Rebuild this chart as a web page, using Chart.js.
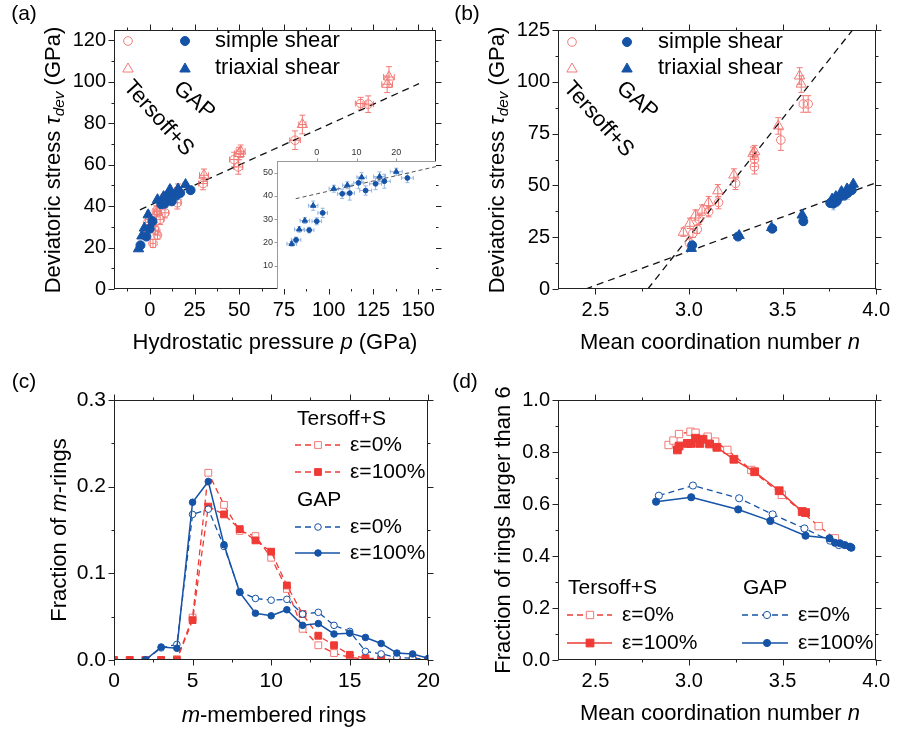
<!DOCTYPE html>
<html><head><meta charset="utf-8">
<script src="https://cdn.jsdelivr.net/npm/chart.js@4.4.1/dist/chart.umd.min.js"></script>
<style>
html,body{margin:0;padding:0;background:#fff;}
#fig{position:relative;width:899px;height:731px;overflow:hidden;background:#fff;font-family:"Liberation Sans",Arial,sans-serif;}
.tx{position:absolute;white-space:nowrap;line-height:1;color:#000;}
sub{font-size:0.7em;vertical-align:-0.28em;line-height:0;}
</style></head><body><div id="fig"></div>
<script>
const FONT='"Liberation Sans", Arial, sans-serif';
const RED='#ef3a35', PINK='#f27a76', BLUE='#1553a7', LBLUE='#93b5e0', FRAME='#222';

// ---------------- Panel (a) ----------------
const aXTicks=[0,25,50,75,100,125,150];
const aXMinor=[-12.5,12.5,37.5,62.5,87.5,112.5,137.5,157.5];
const aYTicks=[0,20,40,60,80,100,120];
const aYMinor=[10,30,50,70,90,110];
const aTsCircP=[1.8,3.3,4.3,5.8,3.7,8.5,15.4,29.8,47.1,49.5,81.2,117.9,122.1];
const aTsCircT=[22.0,28.4,26.0,33.6,37.7,36.8,41.6,50.9,62.5,58.9,71.8,89.5,89.2];
const aTsCircPErr=[1.5,1.5,1.5,2,1.5,2,2,2.5,2.5,2.5,3,3,3];
const aTsCircTErr=[2,2,2,2.5,2.5,2.5,3,3,3.5,3.5,4.5,3,4];
const aTsTriP=[-2.8,-0.8,1.5,4.2,7.1,15.8,30.3,49.9,50.8,85.3,132.7,133.7];
const aTsTriT=[26.0,33.6,31.5,37.3,42.9,47.7,54.9,65.4,66.5,79.4,98.8,102.3];
const aTsTriPErr=[1.5,1.5,1.5,1.5,2,2,2.5,2.5,2.5,2,3,3];
const aTsTriTErr=[2,2.5,2.5,2.5,2.5,3,3,3,3,4.5,4,5];
const gapCircP=[-5.2,-1.9,0.0,1.5,6.4,8.3,10.5,12.3,14.8,17.0,22.8];
const gapCircT=[21.1,25.3,29.1,32.7,40.9,41.2,45.6,42.3,45.2,46.3,47.7];
const gapCircPErr=[1.2,1.2,1.2,1.2,1.2,1.2,1.2,1.5,1.5,1.5,1.5];
const gapCircTErr=[1.2,1.2,1.5,2,2,3,2.5,2,2.5,3,2];
const gapTriP=[-6.3,-4.4,-3.0,-0.9,4.3,7.7,11.3,15.8,20.0];
const gapTriT=[19.4,25.6,29.4,35.8,43.1,44.6,48.0,48.3,50.4];
const gapTriPErr=[1.2,1.2,1.2,1.2,1.2,1.2,1.2,1.5,1.5];
const gapTriTErr=[1,1.2,1.2,2,1.5,1.5,2,2,1.5];
const aFitP=[-5.5,150.5];
const aFitT=[38.2,99.1];
// inset
const inXTicks=[0,10,20];
const inYTicks=[10,20,30,40,50];
const inFitP=[-5.3,30];
const inFitT=[38.8,52.6];

// ---------------- Panel (b) ----------------
const bXTicks=[2.5,3.0,3.5,4.0];
const bXMinor=[2.75,3.25,3.75];
const bYTicks=[0,25,50,75,100,125];
const bYMinor=[12.5,37.5,62.5,87.5,112.5];
const bTsCircN=[3.002,3.021,3.044,3.053,3.105,3.158,3.249,3.350,3.350,3.491,3.611,3.637];
const bTsCircT=[22.3,26.9,28.8,33.6,37.3,41.7,51.0,59.0,62.6,71.9,89.3,89.3];
const bTsCircTErr=[2,2,2,2.5,2.5,3,3,3.5,3.5,5,4,4];
const bTsTriN=[2.970,3.005,3.035,3.070,3.105,3.154,3.240,3.342,3.351,3.477,3.600,3.591];
const bTsTriT=[27.4,31.7,35.7,38.1,41.7,47.4,55.0,65.5,66.3,78.7,98.9,102.8];
const bTsTriTErr=[2,2.5,2.5,2.5,3,3,3,3,3,4,4,4];
const bGapCircN=[3.017,3.262,3.445,3.611,3.755,3.772,3.790,3.805,3.830,3.848,3.870];
const bGapCircT=[21.1,25.3,29.1,32.7,41.5,41.2,42.3,44.5,45.2,46.3,47.7];
const bGapCircTErr=[1.2,1.2,1.5,2,2,3,2.5,2,2.5,3,2];
const bGapTriN=[3.012,3.268,3.442,3.605,3.765,3.785,3.815,3.845,3.878];
const bGapTriT=[19.6,25.8,29.6,35.7,43.4,44.6,47.0,48.3,50.6];
const bGapTriTErr=[1,1.2,1.2,2,1.5,1.5,2,2,1.5];
const bFitRedN=[2.78,3.874];
const bFitRedT=[0,125];
const bFitBlueN=[2.447,4.0];
const bFitBlueT=[0,51.3];

// ---------------- Panel (c) ----------------
const cXTicks=[0,5,10,15,20];
const cXMinor=[2.5,7.5,12.5,17.5];
const cYTicks=[0,0.1,0.2,0.3];
const cYMinor=[0.05,0.15,0.25];
const ringSizes=[0,1,2,3,4,5,6,7,8,9,10,11,12,13,14,15,16,17,18,19,20];
const cTs0=[0,0,0,0,0.001,0.049,0.216,0.179,0.149,0.143,0.118,0.082,0.036,0.017,0.008,0.003,0.001,0,0,0,0];
const cTs100=[0,0,0,0,0,0.046,0.177,0.168,0.151,0.138,0.125,0.086,0.053,0.028,0.017,0.006,0.002,0.0015,0,0,0];
const cGap0=[null,null,0,0.014,0.018,0.168,0.174,0.131,0.079,0.071,0.069,0.070,0.053,0.055,0.040,0.033,0.010,0.007,0.003,0.002,0.001];
const cGap100=[null,null,0,0.015,0.0135,0.182,0.206,0.133,0.078,0.054,0.051,0.058,0.040,0.042,0.030,0.031,0.026,0.019,0.008,0.007,0.002];

// ---------------- Panel (d) ----------------
const dXTicks=[2.5,3.0,3.5,4.0];
const dXMinor=[2.75,3.25,3.75];
const dYTicks=[0,0.2,0.4,0.6,0.8,1.0];
const dYMinor=[0.1,0.3,0.5,0.7,0.9];
const dTs0N=[2.891,2.917,2.947,3.008,3.035,3.100,3.140,3.205,3.333,3.496,3.693,3.780];
const dTs0F=[0.827,0.844,0.869,0.878,0.874,0.859,0.840,0.808,0.731,0.635,0.515,0.468];
const dTs100N=[2.938,2.947,2.991,3.012,3.035,3.058,3.075,3.110,3.149,3.240,3.351,3.482,3.605,3.623];
const dTs100F=[0.808,0.823,0.833,0.833,0.853,0.833,0.849,0.831,0.818,0.772,0.724,0.651,0.571,0.567];
const dGap0N=[2.839,3.021,3.268,3.447,3.617,3.754,3.801,3.865];
const dGap0F=[0.632,0.671,0.622,0.560,0.506,0.459,0.442,0.433];
const dGap100N=[2.824,3.012,3.263,3.435,3.623,3.751,3.780,3.807,3.833,3.860,3.868];
const dGap100F=[0.609,0.626,0.579,0.535,0.478,0.468,0.451,0.449,0.442,0.436,0.432];

// ---------------- helpers ----------------
const fig=document.getElementById('fig');
function pts(xs,ys){const o=[];xs.forEach((x,i)=>{if(ys[i]!==null&&ys[i]!==undefined)o.push({x:x,y:ys[i]});});return o;}
function mkCanvas(x,y,w,h){const c=document.createElement('canvas');c.width=w;c.height=h;
  c.style.cssText=`position:absolute;left:${x}px;top:${y}px;width:${w}px;height:${h}px`;fig.appendChild(c);return c;}
function addText(html,x,y,size,opt){opt=opt||{};const d=document.createElement('div');d.className='tx';d.innerHTML=html;
  d.style.fontSize=size+'px';d.style.left=x+'px';d.style.top=y+'px';
  if(opt.rotL!==undefined){d.style.top=(y-size/2)+'px';d.style.transformOrigin='0 50%';d.style.transform=`rotate(${opt.rotL}deg)`;}
  else d.style.transform=`translate(-50%,-50%)`+(opt.rot?` rotate(${opt.rot}deg)`:'');
  fig.appendChild(d);}
function drawMarker(ctx,style,x,y,r,fill,stroke,lw){
  ctx.beginPath();
  if(style==='circle'){ctx.arc(x,y,r,0,Math.PI*2);}
  else if(style==='triangle'){let a=0;ctx.moveTo(x+Math.sin(a)*r,y-Math.cos(a)*r);a+=2*Math.PI/3;
    ctx.lineTo(x+Math.sin(a)*r,y-Math.cos(a)*r);a+=2*Math.PI/3;ctx.lineTo(x+Math.sin(a)*r,y-Math.cos(a)*r);ctx.closePath();}
  else {const s=r*Math.SQRT1_2;ctx.rect(x-s,y-s,2*s,2*s);}
  if(fill){ctx.fillStyle=fill;ctx.fill();}
  if(stroke){ctx.strokeStyle=stroke;ctx.lineWidth=lw||1;ctx.stroke();}
}
function scaleCfg(c,fit,pos){
  return {type:'linear',position:pos,min:c.min,max:c.max,
    afterBuildTicks:s=>{s.ticks=c.ticks.map(v=>({value:v}));},
    afterFit:s=>{if(s.isHorizontal())s.height=fit;else s.width=fit;},
    grid:{display:false,drawTicks:false},border:{display:false},
    ticks:{autoSkip:false,maxRotation:0,minRotation:0,padding:c.pad,color:c.color||'#000',
      font:{family:FONT,size:c.size},callback:v=>c.fmt(v)}};
}
function makeFrame(o){return {id:'frame',afterDatasetsDraw(chart){
  const ctx=chart.ctx,a=chart.chartArea,xs=chart.scales.x,ys=chart.scales.y;
  const L=Math.round(a.left)+0.5,R=Math.round(a.right)-0.5,T=Math.round(a.top)+0.5,B=Math.round(a.bottom)-0.5;
  ctx.save();ctx.strokeStyle=o.color;ctx.lineWidth=1;ctx.beginPath();
  const sd=o.sides;
  if(sd.includes('l')){ctx.moveTo(L,T-0.5);ctx.lineTo(L,B+0.5);}
  if(sd.includes('r')){ctx.moveTo(R,T-0.5);ctx.lineTo(R,B+0.5);}
  if(sd.includes('t')){ctx.moveTo(L-0.5,T);ctx.lineTo(R+0.5,T);}
  if(sd.includes('b')){ctx.moveTo(L-0.5,B);ctx.lineTo(R+0.5,B);}
  const tk=o.tickSides;
  const drawX=(vals,len)=>vals.forEach(v=>{const p=Math.round(xs.getPixelForValue(v))+0.5;
    if(tk.includes('b')){ctx.moveTo(p,B);ctx.lineTo(p,B+len);} if(tk.includes('t')){ctx.moveTo(p,T);ctx.lineTo(p,T-len);}});
  const drawY=(vals,len)=>vals.forEach(v=>{const p=Math.round(ys.getPixelForValue(v))+0.5;
    if(tk.includes('l')){ctx.moveTo(L,p);ctx.lineTo(L-len,p);} if(tk.includes('r')){ctx.moveTo(R,p);ctx.lineTo(R+len,p);}});
  drawX(o.xMaj,o.maj);drawX(o.xMin||[],o.min);drawY(o.yMaj,o.maj);drawY(o.yMin||[],o.min);
  ctx.stroke();ctx.restore();}};}
const errPlugin={id:'errbars',beforeDatasetsDraw(chart){
  const ctx=chart.ctx;
  chart.data.datasets.forEach((ds,i)=>{
    if(!ds.errY&&!ds.errX)return;
    const meta=chart.getDatasetMeta(i);const xs=chart.scales[meta.xAxisID],ys=chart.scales[meta.yAxisID];
    ctx.save();ctx.strokeStyle=ds.errColor;ctx.lineWidth=1;ctx.beginPath();
    const cap=ds.errCap||3;
    ds.data.forEach((p,j)=>{const px=xs.getPixelForValue(p.x),py=ys.getPixelForValue(p.y);
      if(ds.errY){const e=ds.errY[j];const y1=ys.getPixelForValue(p.y+e),y2=ys.getPixelForValue(p.y-e);
        ctx.moveTo(px,y1);ctx.lineTo(px,y2);ctx.moveTo(px-cap,y1);ctx.lineTo(px+cap,y1);ctx.moveTo(px-cap,y2);ctx.lineTo(px+cap,y2);}
      if(ds.errX){const e=ds.errX[j];const x1=xs.getPixelForValue(p.x-e),x2=xs.getPixelForValue(p.x+e);
        ctx.moveTo(x1,py);ctx.lineTo(x2,py);ctx.moveTo(x1,py-cap);ctx.lineTo(x1,py+cap);ctx.moveTo(x2,py-cap);ctx.lineTo(x2,py+cap);}
    });ctx.stroke();ctx.restore();});}};
function makeNotes(items,ox,oy){return {id:'notes',afterDraw(chart){
  const ctx=chart.ctx;ctx.save();
  items.forEach(it=>{const x=it.x-ox,y=it.y-oy;
    if(it.t==='text'){ctx.fillStyle='#000';ctx.font=`${it.size}px ${FONT}`;ctx.textAlign='left';ctx.textBaseline='middle';ctx.fillText(it.s,x,y);}
    else if(it.t==='ln'){ctx.beginPath();ctx.setLineDash(it.dash||[]);ctx.strokeStyle=it.color;ctx.lineWidth=it.w||1.5;
      ctx.moveTo(x,y);ctx.lineTo(it.x2-ox,y);ctx.stroke();ctx.setLineDash([]);}
    else if(it.t==='mk'){drawMarker(ctx,it.style,x,y,it.r,it.fill,it.stroke,it.lw);}
  });ctx.restore();}};}
const whiteBg={id:'whitebg',beforeDraw(chart){const a=chart.chartArea,ctx=chart.ctx;ctx.save();ctx.fillStyle='#fff';
  ctx.fillRect(a.left,a.top,a.right-a.left,a.bottom-a.top);ctx.restore();}};

function makeChart(cb,area,xc,yc,datasets,plugins){
  const [cx,cy,cw,ch]=cb,[L,T,R,B]=area;
  const cv=mkCanvas(cx,cy,cw,ch);
  const top=xc.pos==='top';
  return new Chart(cv,{type:'scatter',data:{datasets},plugins:[errPlugin].concat(plugins),
    options:{responsive:false,animation:false,devicePixelRatio:1,
      layout:{padding:{left:0,top:top?0:T-cy,right:cx+cw-R,bottom:top?cy+ch-B:0}},
      plugins:{legend:{display:false},tooltip:{enabled:false}},
      scales:{x:scaleCfg(xc,top?T-cy:cy+ch-B,top?'top':'bottom'),y:scaleCfg(yc,L-cx,'left')}}});
}
function scat(data,style,r,fill,stroke,lw,extra){return Object.assign({data,pointStyle:style,pointRadius:r,pointBackgroundColor:fill,
  pointBorderColor:stroke,pointBorderWidth:lw,showLine:false},extra||{});}
function fitLine(data,color,dash,w){return {data,showLine:true,pointRadius:0,borderColor:color,borderWidth:w,borderDash:dash,fill:false};}
const fmt0=v=>String(v), fmt1=v=>v.toFixed(1);
const NONE='rgba(0,0,0,0)';

// ---------------- (a) ----------------
makeChart([0,0,449,365],[114,30,436,289],
  {min:-20,max:160,ticks:aXTicks,fmt:fmt0,size:20,pad:9},
  {min:0,max:125,ticks:aYTicks,fmt:fmt0,size:20,pad:8},
  [
    scat(pts(gapTriP,gapTriT),'triangle',6,BLUE,BLUE,1,{errX:gapTriPErr,errY:gapTriTErr,errColor:LBLUE,errCap:2}),
    scat(pts(gapCircP,gapCircT),'circle',4.5,BLUE,BLUE,1,{errX:gapCircPErr,errY:gapCircTErr,errColor:LBLUE,errCap:2}),
    scat(pts(aTsTriP,aTsTriT),'triangle',6,NONE,PINK,1,{errX:aTsTriPErr,errY:aTsTriTErr,errColor:PINK}),
    scat(pts(aTsCircP,aTsCircT),'circle',4.3,NONE,PINK,1,{errX:aTsCircPErr,errY:aTsCircTErr,errColor:PINK}),
    fitLine(pts(aFitP,aFitT),'#111',[7,5],1.3)
  ],
  [makeFrame({color:FRAME,sides:'lrtb',tickSides:'lrtb',xMaj:aXTicks,xMin:aXMinor,yMaj:aYTicks,yMin:aYMinor,maj:6,min:3}),
   makeNotes([
     {t:'mk',style:'circle',x:128,y:41,r:4.3,fill:null,stroke:PINK,lw:1},
     {t:'mk',style:'circle',x:185,y:41,r:4.5,fill:BLUE,stroke:BLUE,lw:1},
     {t:'text',s:'simple shear',x:215,y:41,size:22},
     {t:'mk',style:'triangle',x:128,y:69,r:6,fill:null,stroke:PINK,lw:1},
     {t:'mk',style:'triangle',x:185,y:69,r:6,fill:BLUE,stroke:BLUE,lw:1},
     {t:'text',s:'triaxial shear',x:215,y:68,size:22}
   ],0,0)]);
// inset
makeChart([240,135,209,165],[277,161,436,289],
  {min:-10,max:30,ticks:inXTicks,fmt:fmt0,size:9,pad:3,pos:'top',color:'#333'},
  {min:0,max:55,ticks:inYTicks,fmt:fmt0,size:9,pad:4,color:'#333'},
  [
    scat(pts(gapTriP,gapTriT),'triangle',3.2,BLUE,BLUE,1,{errX:gapTriPErr,errY:gapTriTErr,errColor:LBLUE,errCap:2}),
    scat(pts(gapCircP,gapCircT),'circle',2.4,BLUE,BLUE,1,{errX:gapCircPErr,errY:gapCircTErr,errColor:LBLUE,errCap:2}),
    fitLine(pts(inFitP,inFitT),'#555',[4,3],1)
  ],
  [whiteBg,makeFrame({color:'#9a9a9a',sides:'lt',tickSides:'lt',xMaj:inXTicks,xMin:[],yMaj:inYTicks,yMin:[],maj:3,min:2})]);

// ---------------- (b) ----------------
makeChart([449,0,450,365],[558,30,881,289],
  {min:2.3,max:4.0,ticks:bXTicks,fmt:fmt1,size:20,pad:9},
  {min:0,max:125,ticks:bYTicks,fmt:fmt0,size:20,pad:8},
  [
    scat(pts(bGapTriN,bGapTriT),'triangle',6,BLUE,BLUE,1,{errY:bGapTriTErr,errColor:LBLUE,errCap:2}),
    scat(pts(bGapCircN,bGapCircT),'circle',4.5,BLUE,BLUE,1,{errY:bGapCircTErr,errColor:LBLUE,errCap:2}),
    scat(pts(bTsTriN,bTsTriT),'triangle',6,NONE,PINK,1,{errY:bTsTriTErr,errColor:PINK}),
    scat(pts(bTsCircN,bTsCircT),'circle',4.3,NONE,PINK,1,{errY:bTsCircTErr,errColor:PINK}),
    fitLine(pts(bFitRedN,bFitRedT),'#111',[7,5],1.3),
    fitLine(pts(bFitBlueN,bFitBlueT),'#111',[7,5],1.3)
  ],
  [makeFrame({color:FRAME,sides:'lrtb',tickSides:'lrtb',xMaj:bXTicks,xMin:bXMinor,yMaj:bYTicks,yMin:bYMinor,maj:6,min:3}),
   makeNotes([
     {t:'mk',style:'circle',x:572,y:42,r:4.3,fill:null,stroke:PINK,lw:1},
     {t:'mk',style:'circle',x:627,y:42,r:4.5,fill:BLUE,stroke:BLUE,lw:1},
     {t:'text',s:'simple shear',x:658,y:42,size:22},
     {t:'mk',style:'triangle',x:572,y:69,r:6,fill:null,stroke:PINK,lw:1},
     {t:'mk',style:'triangle',x:627,y:69,r:6,fill:BLUE,stroke:BLUE,lw:1},
     {t:'text',s:'triaxial shear',x:658,y:68,size:22}
   ],449,0)]);

// ---------------- (c) ----------------
makeChart([0,365,449,366],[114,400,435,660],
  {min:0,max:20,ticks:cXTicks,fmt:fmt0,size:21,pad:9},
  {min:0,max:0.3,ticks:cYTicks,fmt:fmt1,size:21,pad:8},
  [
    Object.assign(scat(pts(ringSizes,cGap100),'circle',3.3,BLUE,BLUE,1),{showLine:true,borderColor:BLUE,borderWidth:1.5}),
    Object.assign(scat(pts(ringSizes,cGap0),'circle',3.3,'#fff',BLUE,1),{showLine:true,borderColor:BLUE,borderWidth:1.3,borderDash:[6,4]}),
    Object.assign(scat(pts(ringSizes,cTs100),'rect',4.8,RED,RED,1),{showLine:true,borderColor:RED,borderWidth:1.3,borderDash:[6,4]}),
    Object.assign(scat(pts(ringSizes,cTs0),'rect',4.8,'#fff',PINK,1),{showLine:true,borderColor:RED,borderWidth:1.3,borderDash:[6,4]})
  ],
  [makeFrame({color:FRAME,sides:'lrtb',tickSides:'lrtb',xMaj:cXTicks,xMin:cXMinor,yMaj:cYTicks,yMin:cYMinor,maj:6,min:3}),
   makeNotes([
     {t:'text',s:'Tersoff+S',x:297,y:419,size:21},
     {t:'ln',x:295,x2:340,y:445,color:RED,dash:[6,4],w:1.3},
     {t:'mk',style:'rect',x:318,y:445,r:4.8,fill:'#fff',stroke:PINK,lw:1},
     {t:'text',s:'ε=0%',x:350,y:445,size:21},
     {t:'ln',x:295,x2:340,y:472,color:RED,dash:[6,4],w:1.3},
     {t:'mk',style:'rect',x:318,y:472,r:4.8,fill:RED,stroke:RED,lw:1},
     {t:'text',s:'ε=100%',x:350,y:472,size:21},
     {t:'text',s:'GAP',x:297,y:500,size:21},
     {t:'ln',x:295,x2:340,y:527,color:BLUE,dash:[6,4],w:1.3},
     {t:'mk',style:'circle',x:318,y:527,r:3.3,fill:'#fff',stroke:BLUE,lw:1},
     {t:'text',s:'ε=0%',x:350,y:527,size:21},
     {t:'ln',x:295,x2:340,y:553,color:BLUE,w:1.5},
     {t:'mk',style:'circle',x:318,y:553,r:3.3,fill:BLUE,stroke:BLUE,lw:1},
     {t:'text',s:'ε=100%',x:350,y:553,size:21}
   ],0,365)]);

// ---------------- (d) ----------------
makeChart([449,365,450,366],[558,400,881,660],
  {min:2.3,max:4.0,ticks:dXTicks,fmt:fmt1,size:20,pad:9},
  {min:0,max:1.0,ticks:dYTicks,fmt:fmt1,size:20,pad:8},
  [
    Object.assign(scat(pts(dGap100N,dGap100F),'circle',3.6,BLUE,BLUE,1),{showLine:true,borderColor:BLUE,borderWidth:1.5}),
    Object.assign(scat(pts(dGap0N,dGap0F),'circle',3.6,'#fff',BLUE,1),{showLine:true,borderColor:BLUE,borderWidth:1.3,borderDash:[6,4]}),
    Object.assign(scat(pts(dTs100N,dTs100F),'rect',5.5,RED,RED,1),{showLine:true,borderColor:RED,borderWidth:1.5}),
    Object.assign(scat(pts(dTs0N,dTs0F),'rect',5.2,'#fff',PINK,1),{showLine:true,borderColor:RED,borderWidth:1.3,borderDash:[6,4]})
  ],
  [makeFrame({color:FRAME,sides:'lrtb',tickSides:'lrtb',xMaj:dXTicks,xMin:dXMinor,yMaj:dYTicks,yMin:dYMinor,maj:6,min:3}),
   makeNotes([
     {t:'text',s:'Tersoff+S',x:568,y:588,size:21},
     {t:'ln',x:567,x2:612,y:615,color:RED,dash:[6,4],w:1.3},
     {t:'mk',style:'rect',x:590,y:615,r:5.2,fill:'#fff',stroke:PINK,lw:1},
     {t:'text',s:'ε=0%',x:622,y:615,size:21},
     {t:'ln',x:567,x2:612,y:643,color:RED,w:1.5},
     {t:'mk',style:'rect',x:590,y:643,r:5.5,fill:RED,stroke:RED,lw:1},
     {t:'text',s:'ε=100%',x:622,y:643,size:21},
     {t:'text',s:'GAP',x:743,y:588,size:21},
     {t:'ln',x:742,x2:788,y:615,color:BLUE,dash:[6,4],w:1.3},
     {t:'mk',style:'circle',x:767,y:615,r:3.6,fill:'#fff',stroke:BLUE,lw:1},
     {t:'text',s:'ε=0%',x:798,y:615,size:21},
     {t:'ln',x:742,x2:788,y:643,color:BLUE,w:1.5},
     {t:'mk',style:'circle',x:767,y:643,r:3.6,fill:BLUE,stroke:BLUE,lw:1},
     {t:'text',s:'ε=100%',x:798,y:643,size:21}
   ],449,365)]);

// ---------------- HTML text ----------------
addText('(a)',24,12,21); addText('(b)',467,12,21); addText('(c)',24,380,21); addText('(d)',465,380,21);
addText('Hydrostatic pressure <i>p</i> (GPa)',275,342,22);
addText('Mean coordination number <i>n</i>',720,342,22);
addText('<i>m</i>-membered rings',274,715,22);
addText('Mean coordination number <i>n</i>',720,713,22);
addText('Deviatoric stress <i>τ<sub>dev</sub></i> (GPa)',53,160,22,{rot:-90});
addText('Deviatoric stress <i>τ<sub>dev</sub></i> (GPa)',497,160,22,{rot:-90});
addText('Fraction of <i>m</i>-rings',59,530,22,{rot:-90});
addText('Fraction of rings larger than 6',503,530,22,{rot:-90});
addText('Tersoff+S',127.9,82.6,22,{rotL:48});
addText('GAP',177.4,85.4,22,{rotL:40});
addText('Tersoff+S',567.9,83.6,22,{rotL:48});
addText('GAP',619.7,85.4,22,{rotL:40});
</script></body></html>
